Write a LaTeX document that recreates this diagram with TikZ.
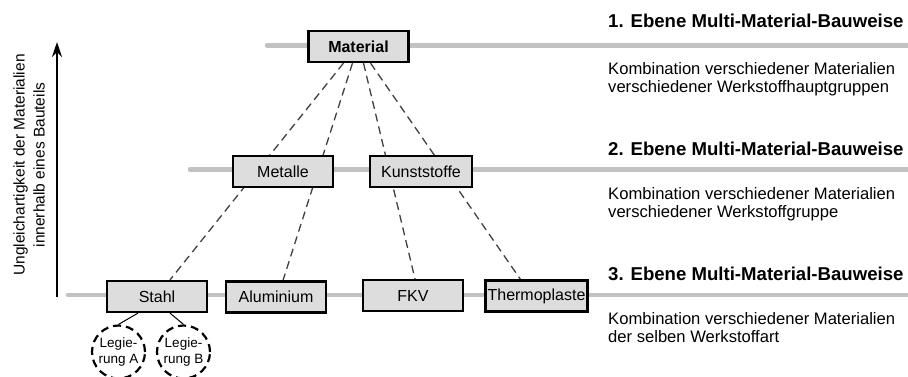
\documentclass[tikz,border=0pt]{standalone}
\usepackage{fontspec}
\setmainfont{Liberation Sans}
\usetikzlibrary{arrows.meta,backgrounds}
\definecolor{Ebene}{HTML}{C2C2C2}
\definecolor{Stoff}{HTML}{DDDDDD}

\begin{document}
\begin{tikzpicture}[x=1pt,y=-1pt,>={Stealth[length=15pt,width=10pt]},
  stoff/.style={draw,line width=2.2pt,fill=Stoff,minimum width=100pt,minimum height=31pt,inner xsep=4pt,font=\fontsize{16}{19}\selectfont},
  ebene/.style={draw=Ebene,line width=4.5pt,line cap=round},
  verb/.style={dash pattern=on 8pt off 5pt,line width=1.3pt,black!75},
  leg/.style={draw,circle,dash pattern=on 8pt off 5pt,line width=2.2pt,minimum size=53pt,inner sep=0pt,align=center,font=\fontsize{13.5}{15.5}\selectfont},
  titel/.style={anchor=base west,inner sep=0pt,font=\fontsize{18.6}{22}\selectfont\bfseries},
  erkl/.style={anchor=base west,inner sep=0pt,align=left,font=\fontsize{16.6}{18}\selectfont}]
  \useasboundingbox (0,0) rectangle (908,376);
  \clip (0,0) rectangle (908,376);
  % Ebene 1
  \node[stoff,font=\fontsize{16}{19}\selectfont\bfseries] (mat) at (358.5,46.5) {Material};
  % Ebene 2
  \node[stoff] (met) at (283,171.5) {Metalle};
  \node[stoff,minimum width=102pt] (kun) at (421,171.5) {Kunststoffe};
  % Ebene 3
  \node[stoff] (stahl) at (157,296.5) {Stahl};
  \node[stoff] (alu) at (276,297) {Aluminium};
  \node[stoff] (fkv) at (413,295.5) {FKV};
  \node[stoff,inner xsep=2pt] (thermo) at (536.5,296) {Thermoplaste};
  \node[leg] (legA) at (118.5,352) {Legie-\\rung A};
  \node[leg] (legB) at (183.5,352) {Legie-\\rung B};
  \draw[line width=1pt] ([xshift=-19pt]stahl.south) -- (legA.north);
  \draw[line width=1pt] ([xshift=13pt]stahl.south) -- (legB.north);
  \begin{scope}[on background layer]
    \draw[ebene] (267,45.5) -- (912,45.5);
    \draw[ebene] (190,169.5) -- (912,169.5);
    \draw[ebene] (68,295) -- (912,295);
    \draw[verb] ([xshift=-15pt]mat.south) -- ([xshift=13pt]stahl.north);
    \draw[verb] ([xshift=-6pt]mat.south) -- ([xshift=7pt]alu.north);
    \draw[verb] ([xshift=5pt]mat.south) -- ([xshift=2pt]fkv.north);
    \draw[verb] ([xshift=12pt]mat.south) -- ([xshift=-16pt]thermo.north);
  \end{scope}
  % Achse
  \coordinate (a0) at (57,297);
  \coordinate (a1) at (57,42);
  \draw[->,line width=1.8pt] (a0) -- (a1);
  \node[rotate=90,align=center,font=\fontsize{15.5}{20}\selectfont] (achse) at (29,165) {Ungleichartigkeit der Materialien\\innerhalb eines Bauteils};
  % Beschreibung rechts
  \node[titel] (t1) at (608,27) {1. Ebene Multi-Material-Bauweise};
  \node[erkl] (e1) at (608,92) {Kombination verschiedener Materialien\\verschiedener Werkstoffhauptgruppen};
  \node[titel] (t2) at (608,155) {2. Ebene Multi-Material-Bauweise};
  \node[erkl] (e2) at (608,217) {Kombination verschiedener Materialien\\verschiedener Werkstoffgruppe};
  \node[titel] (t3) at (608,280) {3. Ebene Multi-Material-Bauweise};
  \node[erkl] (e3) at (608,342) {Kombination verschiedener Materialien\\der selben Werkstoffart};
\end{tikzpicture}
\end{document}
